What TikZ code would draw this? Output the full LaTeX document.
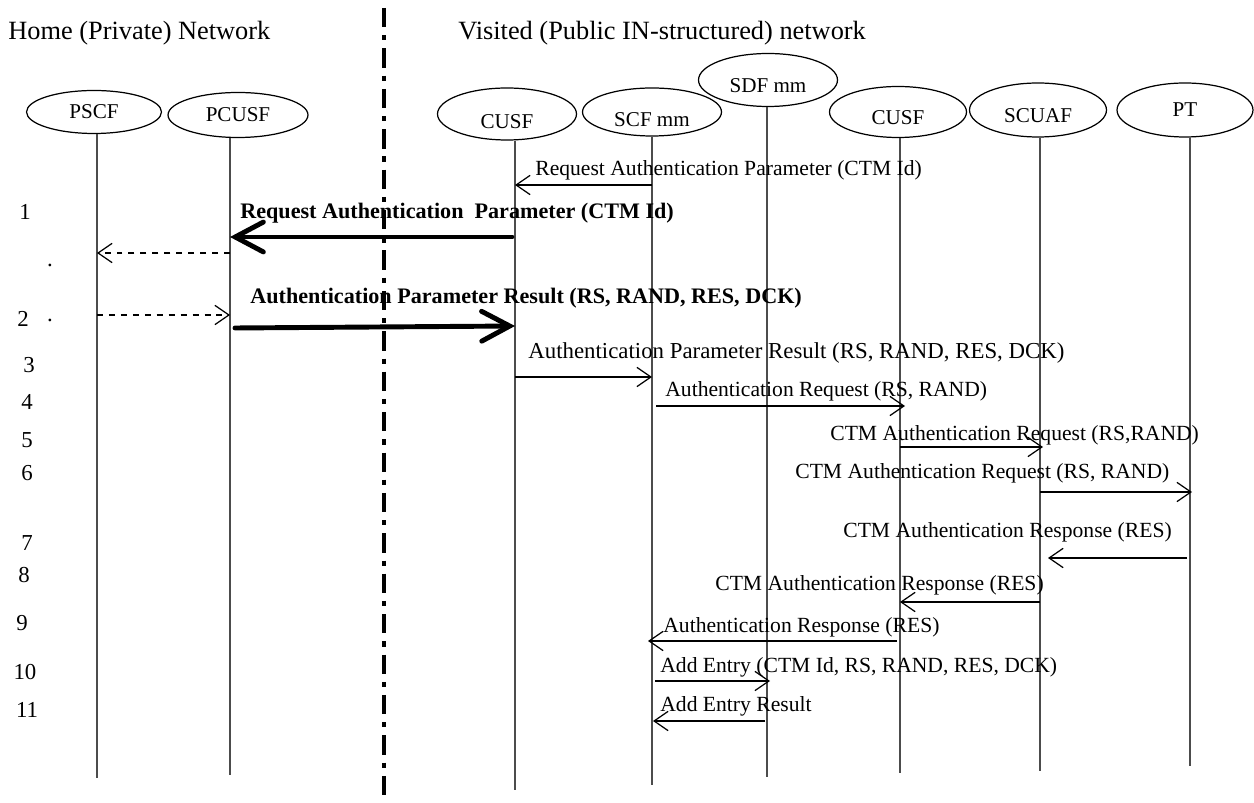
\documentclass[tikz,border=0pt]{standalone}
\usepackage{fontspec}
\setmainfont{Liberation Serif}
\usetikzlibrary{shapes.geometric,arrows.meta}

\begin{document}
\begin{tikzpicture}[x=0.02cm,y=-0.02cm,
  actor/.style={draw,ellipse,line width=0.7pt,minimum width=2.78cm,minimum height=1.04cm,inner sep=0pt,font=\fontsize{12}{14}\selectfont},
  txtdown/.style={text height=#1,text depth=0pt},
  life/.style={gray!60!black,line width=0.6pt},
  msg/.style={-{Straight Barb[length=8pt,width=11pt]},line width=0.7pt},
  dmsg/.style={msg,dash pattern=on 3.4pt off 3.4pt},
  bigmsg/.style={-{Straight Barb[length=16pt,width=17pt,line cap=round]},line width=2.8pt,line cap=round},
  lbl/.style={anchor=west,inner sep=0pt,font=\fontsize{12.3}{15}\selectfont},
  blbl/.style={anchor=west,inner sep=0pt,font=\fontsize{12.6}{15}\selectfont\bfseries},
  num/.style={inner sep=0pt,font=\fontsize{13}{15}\selectfont},
  sep/.style={line width=2.2pt,dash pattern=on 11pt off 4.5pt on 3pt off 4.5pt}]
\useasboundingbox (0,0) rectangle (1254,803);

\node[anchor=west,inner sep=0pt,font=\fontsize{15}{18}\selectfont] (home) at (8,33) {Home (Private) Network};
\node[anchor=west,inner sep=0pt,font=\fontsize{15}{18}\selectfont] (visited) at (458,33) {Visited (Public IN-structured) network};
\draw[sep] (384,8) -- (384,803);

% entities
\node[actor,minimum width=2.7cm,minimum height=0.86cm] (pscf) at (94,112) {PSCF};
\node[actor,minimum width=2.8cm,minimum height=0.9cm] (pcusf) at (238,115) {PCUSF};
\node[actor,txtdown=17pt] (cusf) at (507,114) {CUSF};
\node[actor,minimum height=0.96cm,txtdown=17pt] (scf) at (652,112) {SCF mm};
\node[actor,minimum height=1.06cm,txtdown=13.7pt] (sdf) at (768,80) {SDF mm};
\node[actor,minimum width=2.74cm,minimum height=1.02cm,txtdown=14.8pt] (cusfv) at (898,112) {CUSF};
\node[actor,minimum width=2.74cm,minimum height=1.08cm,txtdown=14.8pt] (scuaf) at (1038,110) {SCUAF};
\node[actor,minimum width=2.72cm,minimum height=1.08cm] (pt) at (1185,110) {PT};

% lifelines
\coordinate (pscf-e) at (97,778);
\coordinate (pcusf-e) at (230,775);
\coordinate (cusf-e) at (515,790);
\coordinate (scf-e) at (652,785);
\coordinate (sdf-e) at (767,777);
\coordinate (cusfv-e) at (900,773);
\coordinate (scuaf-e) at (1040,771);
\coordinate (pt-e) at (1190,766);
\foreach \n in {pscf,pcusf,cusf,scf,sdf,cusfv,scuaf,pt}
  \draw[life] (\n-e |- \n.south) -- (\n-e);

% step numbers
\node[num] (n1) at (25,212) {1};
\node[num] (d1) at (50,265) {.};
\node[num] (n2) at (23,319) {2};
\node[num] (d2) at (50,320) {.};
\node[num] (n3) at (29,365) {3};
\node[num] (n4) at (27,402) {4};
\node[num] (n5) at (27,440) {5};
\node[num] (n6) at (27,473) {6};
\node[num] (n7) at (27,543) {7};
\node[num] (n8) at (24,575) {8};
\node[num] (n9) at (22,623) {9};
\node[num] (n10) at (25,672) {10};
\node[num] (n11) at (27,710) {11};

% messages
\node[lbl] (l0) at (535,170) {Request Authentication Parameter (CTM Id)};
\draw[msg] (scf-e |- 0,185) -- (cusf-e |- 0,185);

\node[blbl] (l1) at (240,213) {Request Authentication~ Parameter (CTM Id)};
\draw[bigmsg] (512,237) -- (pcusf-e |- 0,237);
\draw[dmsg] (pcusf-e |- 0,253) -- (pscf-e |- 0,253);

\node[blbl] (l2) at (250,298) {Authentication Parameter Result (RS, RAND, RES, DCK)};
\draw[dmsg] (pscf-e |- 0,315) -- (pcusf-e |- 0,315);
\draw[bigmsg] (235,328) -- (cusf-e |- 0,326);

\node[lbl,font=\fontsize{13}{15}\selectfont] (l3) at (528,353) {Authentication Parameter Result (RS, RAND, RES, DCK)};
\draw[msg] (cusf-e |- 0,377) -- (scf-e |- 0,377);

\node[lbl] (l4) at (665,391) {Authentication Request (RS, RAND)};
\draw[msg] (656,406) -- (905,406);

\node[lbl] (l5) at (830,435) {CTM Authentication Request (RS,RAND)};
\draw[msg] (cusfv-e |- 0,447) -- (1043,447);

\node[lbl] (l6) at (795,473) {CTM Authentication Request (RS, RAND)};
\draw[msg] (scuaf-e |- 0,492) -- (1192,492);

\node[lbl] (l7) at (843,532) {CTM Authentication Response (RES)};
\draw[msg] (1187,558) -- (1048,558);

\node[lbl] (l8) at (715,585) {CTM Authentication Response (RES)};
\draw[msg] (scuaf-e |- 0,602) -- (cusfv-e |- 0,602);

\node[lbl] (l9) at (663,627) {Authentication Response (RES)};
\draw[msg] (897,641) -- (648,641);

\node[lbl] (l10) at (660,667) {Add Entry (CTM Id, RS, RAND, RES, DCK)};
\draw[msg] (655,681) -- (770,681);

\node[lbl] (l11) at (660,706) {Add Entry Result};
\draw[msg] (765,721) -- (653,721);
\end{tikzpicture}
\end{document}
